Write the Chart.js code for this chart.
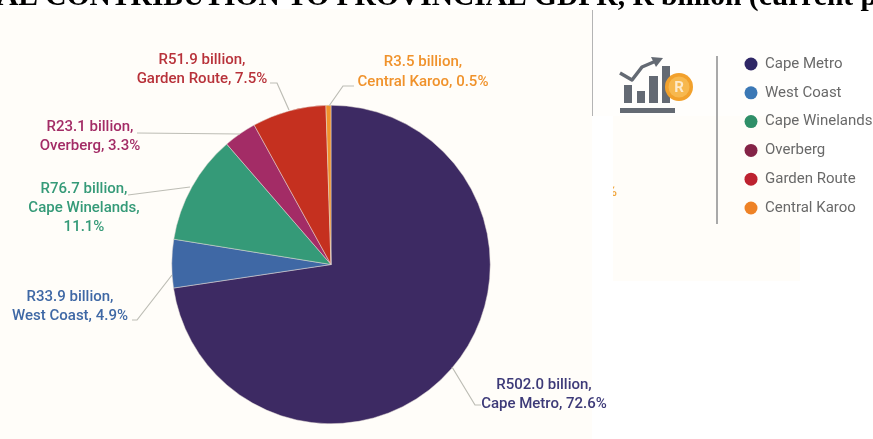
<!DOCTYPE html>
<html>
<head>
<meta charset="utf-8">
<style>
  html, body { margin: 0; padding: 0; background: #fff; overflow: hidden; }
  #wrap { position: relative; width: 873px; height: 439px; }
</style>
<script src="https://cdn.jsdelivr.net/npm/chart.js@4/dist/chart.umd.min.js"></script>
</head>
<body>
<div id="wrap"><canvas id="myChart" width="873" height="439"></canvas></div>
<script>
const categories = ['Cape Metro', 'West Coast', 'Cape Winelands', 'Overberg', 'Garden Route', 'Central Karoo'];
const gdpr = [502.0, 33.9, 76.7, 23.1, 51.9, 3.5];
const shares = ['72.6%', '4.9%', '11.1%', '3.3%', '7.5%', '0.5%'];
const sliceColors = ['#3d2a63', '#3f68a5', '#359a78', '#a32c66', '#c5301f', '#f0922b'];
const legendColors = ['#2f2766', '#3b78b5', '#2f8f68', '#842347', '#bd2230', '#ee8226'];
const titleText = 'AL CONTRIBUTION TO PROVINCIAL GDPR, R billion (current p';

// callout text, split by hand the way it wraps around the pie
const callouts = [
  { lines: [`R${gdpr[0].toFixed(1)} billion,`, `${categories[0]}, ${shares[0]}`], x: 544, y: [385, 404], path: [[452, 367], [475, 405], [481, 405]], color: '#3d3a78' },
  { lines: [`R${gdpr[1]} billion,`, `${categories[1]}, ${shares[1]}`], x: 70, y: [297, 316], path: [[132, 320], [137, 320], [172, 275]], color: '#3f68a5' },
  { lines: [`R${gdpr[2]} billion,`, `${categories[2]},`, shares[2]], x: 84, y: [189, 208, 227], path: [[128, 195], [190, 187]], color: '#359a78' },
  { lines: [`R${gdpr[3]} billion,`, `${categories[3]}, ${shares[3]}`], x: 90, y: [127, 146], path: [[137, 133], [240, 134]], color: '#a32c66' },
  { lines: [`R${gdpr[4]} billion,`, `${categories[4]}, ${shares[4]}`], x: 202, y: [60, 79], path: [[270, 83], [277, 83], [289, 110]], color: '#b8323a' },
  { lines: [`R${gdpr[5]} billion,`, `${categories[5]}, ${shares[5]}`], x: 423, y: [62, 82], path: [[329, 106], [343, 86], [354, 86]], color: '#f0922b' }
];

const pageBackground = {
  id: 'pageBackground',
  beforeDraw(chart) {
    const ctx = chart.ctx;
    ctx.save();
    ctx.fillStyle = '#fffdf9';
    ctx.fillRect(0, 9, 592, 430);
    ctx.fillRect(613, 116, 187, 165);
    ctx.fillStyle = '#fffefc';
    ctx.fillRect(592, 9, 208, 107);
    ctx.restore();
  }
};

function drawIcon(ctx) {
  ctx.fillStyle = '#646a73';
  ctx.fillRect(624, 85, 8, 18);
  ctx.fillRect(637, 91, 8, 12);
  ctx.fillRect(649, 76, 9, 27);
  ctx.fillRect(662, 66, 8, 37);
  ctx.fillRect(620, 108, 55, 5);
  ctx.strokeStyle = '#646a73';
  ctx.lineWidth = 3.5;
  ctx.lineJoin = 'round';
  ctx.beginPath();
  ctx.moveTo(620, 73);
  ctx.lineTo(632, 80);
  ctx.lineTo(642, 67);
  ctx.lineTo(656, 61);
  ctx.stroke();
  ctx.beginPath();
  ctx.moveTo(663, 58);
  ctx.lineTo(651, 57);
  ctx.lineTo(656, 67);
  ctx.closePath();
  ctx.fill();
  ctx.fillStyle = '#f2a12c';
  ctx.beginPath();
  ctx.arc(679, 87, 14, 0, Math.PI * 2);
  ctx.fill();
  ctx.fillStyle = '#f7b84e';
  ctx.beginPath();
  ctx.arc(679, 87, 10.5, 0, Math.PI * 2);
  ctx.fill();
  ctx.fillStyle = '#fdeacb';
  ctx.font = 'bold 15px Roboto';
  ctx.textAlign = 'center';
  ctx.textBaseline = 'middle';
  ctx.fillText('R', 679, 88);
}

const annotations = {
  id: 'annotations',
  afterDraw(chart) {
    const ctx = chart.ctx;
    ctx.save();

    // heading runs off both edges
    ctx.fillStyle = '#000';
    ctx.font = 'bold 29.5px "Liberation Serif"';
    ctx.textAlign = 'left';
    ctx.textBaseline = 'alphabetic';
    ctx.fillText(titleText, -3, 5);

    ctx.strokeStyle = '#b4b4b4';
    ctx.lineWidth = 1;
    ctx.beginPath();
    ctx.moveTo(592.5, 10);
    ctx.lineTo(592.5, 116);
    ctx.stroke();

    // leader lines and callouts
    callouts.forEach(c => {
      ctx.strokeStyle = '#bdbdb5';
      ctx.lineWidth = 1.2;
      ctx.beginPath();
      c.path.forEach((p, i) => i ? ctx.lineTo(p[0], p[1]) : ctx.moveTo(p[0], p[1]));
      ctx.stroke();
      ctx.fillStyle = c.color;
      ctx.font = '500 15px Roboto';
      ctx.textAlign = 'center';
      ctx.textBaseline = 'middle';
      c.lines.forEach((t, i) => ctx.fillText(t, c.x, c.y[i]));
    });

    drawIcon(ctx);

    ctx.strokeStyle = '#a9a9a9';
    ctx.lineWidth = 2;
    ctx.beginPath();
    ctx.moveTo(717, 56);
    ctx.lineTo(717, 224);
    ctx.stroke();

    // legend
    ctx.font = '15px Roboto';
    ctx.textAlign = 'left';
    ctx.textBaseline = 'middle';
    categories.forEach((name, i) => {
      const y = 64 + i * 28.8;
      ctx.fillStyle = legendColors[i];
      ctx.beginPath();
      ctx.arc(751, y, 6.5, 0, Math.PI * 2);
      ctx.fill();
      ctx.fillStyle = '#696969';
      ctx.fillText(name, 765, y);
    });

    // stray percent sign, cut off by the panel edge
    ctx.save();
    ctx.beginPath();
    ctx.rect(613, 184, 6, 14);
    ctx.clip();
    ctx.fillStyle = '#f0a53c';
    ctx.font = '500 15px Roboto';
    ctx.fillText('%', 606, 192);
    ctx.restore();

    ctx.restore();
  }
};

const ctx = document.getElementById('myChart').getContext('2d');
const myChart = new Chart(ctx, {
  type: 'pie',
  data: {
    labels: categories,
    datasets: [{
      data: gdpr,
      backgroundColor: sliceColors,
      borderColor: '#e4dcd6',
      borderWidth: 0.5
    }]
  },
  options: {
    responsive: false,
    animation: false,
    layout: { padding: { left: 171.5, right: 382.5, top: 105, bottom: 15 } },
    plugins: {
      legend: { display: false },
      tooltip: { enabled: false }
    }
  },
  plugins: [pageBackground, annotations]
});
</script>
</body>
</html>
